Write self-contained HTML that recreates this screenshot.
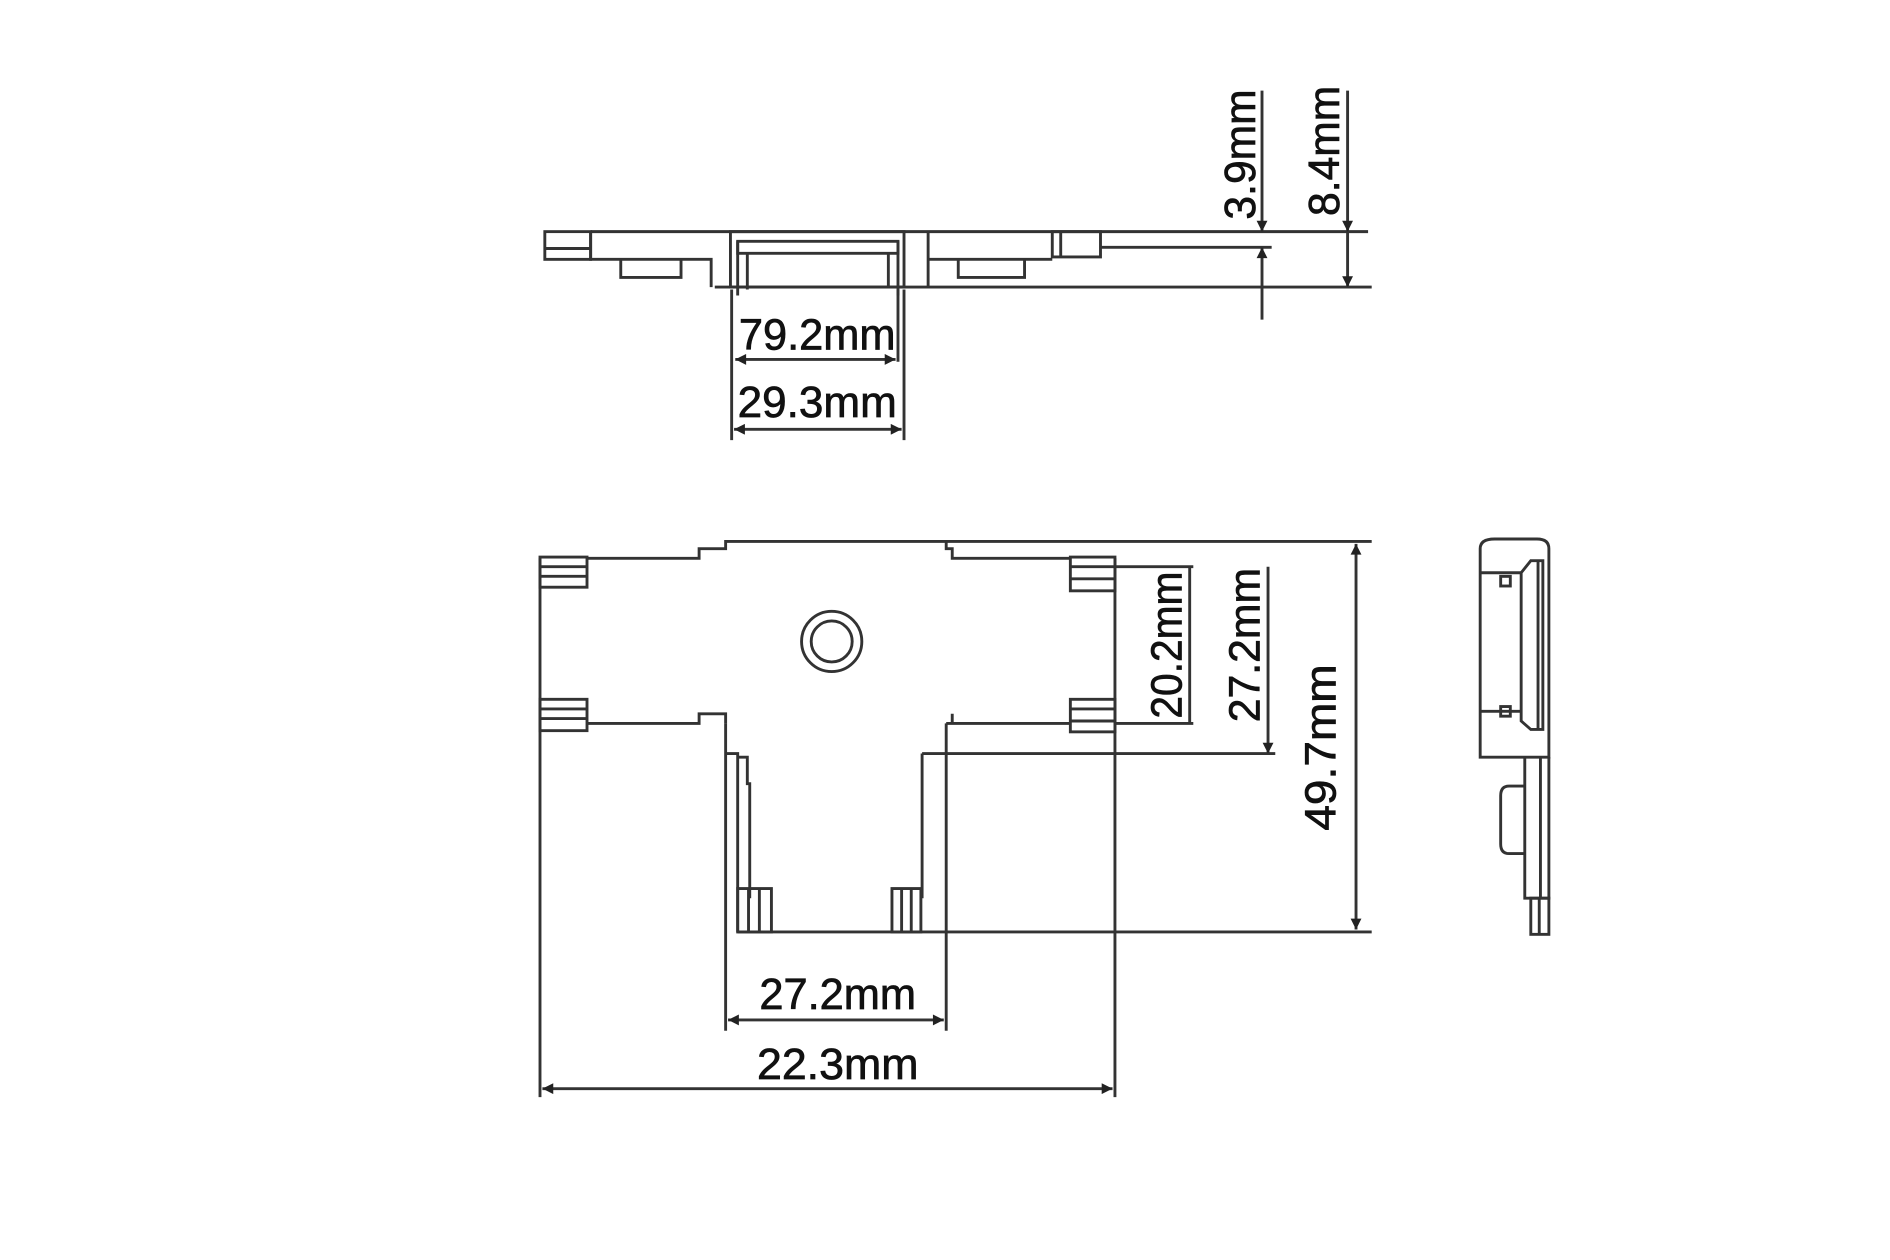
<!DOCTYPE html>
<html><head><meta charset="utf-8"><style>html,body{margin:0;padding:0;background:#fff}svg{display:block}</style></head>
<body>
<svg width="1890" height="1260" viewBox="0 0 1568 1045" xmlns="http://www.w3.org/2000/svg">
<defs>
<marker id="a" viewBox="0 0 10 10" refX="10" refY="5" markerWidth="18" markerHeight="9" orient="auto-start-reverse" markerUnits="userSpaceOnUse"><path d="M0,0L10,5L0,10z" fill="#222"/></marker>
</defs>
<rect width="1568" height="1045" fill="#fff"/>
<g fill="none" stroke="#333" stroke-width="2.4">
<line x1="490" y1="192" x2="1135" y2="192"/>
<line x1="593" y1="238" x2="1138" y2="238"/>
<rect x="452" y="192" width="38" height="23"/>
<line x1="452" y1="206" x2="490" y2="206"/>
<path d="M490,192V215H590V238"/>
<path d="M515,215V230H565V215"/>
<rect x="606" y="192" width="144" height="46"/>
<path d="M612,200H745V210H612Z"/>
<line x1="612" y1="200" x2="612" y2="245"/>
<line x1="745" y1="200" x2="745" y2="245"/>
<line x1="620" y1="210" x2="620" y2="240"/>
<line x1="737" y1="210" x2="737" y2="238"/>
<path d="M770,192V238"/>
<path d="M770,215H873"/>
<path d="M795,215V230H850V215"/>
<rect x="873" y="192" width="40" height="21"/>
<line x1="880" y1="192" x2="880" y2="213"/>
<line x1="913" y1="205" x2="1055" y2="205"/>
<line x1="1047" y1="75" x2="1047" y2="192" marker-end="url(#a)"/>
<line x1="1047" y1="265" x2="1047" y2="205" marker-end="url(#a)"/>
<line x1="1118" y1="75" x2="1118" y2="192" marker-end="url(#a)"/>
<line x1="1118" y1="192" x2="1118" y2="238" marker-end="url(#a)"/>
<line x1="607" y1="240" x2="607" y2="365"/>
<line x1="745" y1="240" x2="745" y2="300"/>
<line x1="750" y1="240" x2="750" y2="365"/>
<line x1="610" y1="298" x2="743" y2="298" marker-start="url(#a)" marker-end="url(#a)"/>
<line x1="609" y1="356" x2="748" y2="356" marker-start="url(#a)" marker-end="url(#a)"/>
<path d="M487,463H580V455H602V449H785V455H790V463H888"/>
<path d="M487,600H580V592H602V600"/>
<path d="M785,600H790V592M785,600H888"/>
<line x1="448" y1="463" x2="448" y2="910"/>
<rect x="448" y="462" width="39" height="25"/>
<line x1="448" y1="470" x2="487" y2="470"/><line x1="448" y1="478" x2="487" y2="478"/>
<rect x="448" y="580" width="39" height="26"/>
<line x1="448" y1="588" x2="487" y2="588"/><line x1="448" y1="596" x2="487" y2="596"/>
<rect x="888" y="462" width="37" height="28"/>
<line x1="888" y1="470" x2="925" y2="470"/><line x1="888" y1="480" x2="925" y2="480"/>
<rect x="888" y="580" width="37" height="27"/>
<line x1="888" y1="588" x2="925" y2="588"/><line x1="888" y1="598" x2="925" y2="598"/>
<line x1="925" y1="463" x2="925" y2="910"/>
<line x1="602" y1="600" x2="602" y2="855"/>
<line x1="785" y1="600" x2="785" y2="855"/>
<path d="M602,625H612V773"/>
<path d="M612,628H620V650H622V745"/>
<path d="M765,625V745"/>
<line x1="765" y1="625" x2="1058" y2="625"/>
<line x1="612" y1="773" x2="1138" y2="773"/>
<rect x="612" y="737" width="28" height="36"/><line x1="621" y1="737" x2="621" y2="773"/><line x1="630" y1="737" x2="630" y2="773"/>
<rect x="740" y="737" width="24" height="36"/><line x1="748" y1="737" x2="748" y2="773"/><line x1="756" y1="737" x2="756" y2="773"/>
<circle cx="690" cy="532" r="25"/><circle cx="690" cy="532" r="17"/>
<line x1="925" y1="470" x2="990" y2="470"/>
<line x1="925" y1="600" x2="990" y2="600"/>
<line x1="987" y1="470" x2="987" y2="600"/>
<line x1="1052" y1="470" x2="1052" y2="625" marker-end="url(#a)"/>
<line x1="785" y1="449" x2="1138" y2="449"/>
<line x1="1125" y1="451" x2="1125" y2="771" marker-start="url(#a)" marker-end="url(#a)"/>
<line x1="604" y1="846" x2="783" y2="846" marker-start="url(#a)" marker-end="url(#a)"/>
<line x1="450" y1="903" x2="923" y2="903" marker-start="url(#a)" marker-end="url(#a)"/>
<path d="M1228,628V455Q1228,447 1240,447H1275Q1285,447 1285,455V628Z"/>
<line x1="1228" y1="475" x2="1262" y2="475"/>
<line x1="1228" y1="590" x2="1262" y2="590"/>
<path d="M1262,475L1270,465H1280V605H1270L1262,598Z"/>
<line x1="1276" y1="465" x2="1276" y2="605"/>
<rect x="1245" y="478" width="8" height="8"/><rect x="1245" y="586" width="8" height="8"/>
<path d="M1265,628V745H1285V628"/>
<line x1="1278" y1="628" x2="1278" y2="745"/>
<path d="M1265,652H1252Q1245,652 1245,660V700Q1245,708 1252,708H1265"/>
<rect x="1270" y="745" width="15" height="30"/><line x1="1277" y1="745" x2="1277" y2="775"/>
</g>
<g font-family="Liberation Sans, sans-serif" font-size="36" fill="#111" stroke="#111" stroke-width="0.6">
<text x="678" y="290" text-anchor="middle" textLength="130" lengthAdjust="spacingAndGlyphs">79.2mm</text>
<text x="678" y="346" text-anchor="middle" textLength="132" lengthAdjust="spacingAndGlyphs">29.3mm</text>
<text x="695" y="837" text-anchor="middle" textLength="130" lengthAdjust="spacingAndGlyphs">27.2mm</text>
<text x="695" y="895" text-anchor="middle" textLength="134" lengthAdjust="spacingAndGlyphs">22.3mm</text>
<text transform="translate(1041,128) rotate(-90)" text-anchor="middle" textLength="108" lengthAdjust="spacingAndGlyphs">3.9mm</text>
<text transform="translate(1111,125) rotate(-90)" text-anchor="middle" textLength="108" lengthAdjust="spacingAndGlyphs">8.4mm</text>
<text transform="translate(980,535) rotate(-90)" text-anchor="middle" textLength="122" lengthAdjust="spacingAndGlyphs">20.2mm</text>
<text transform="translate(1045,535) rotate(-90)" text-anchor="middle" textLength="128" lengthAdjust="spacingAndGlyphs">27.2mm</text>
<text transform="translate(1108,620) rotate(-90)" text-anchor="middle" textLength="138" lengthAdjust="spacingAndGlyphs">49.7mm</text>
</g>
</svg>
</body></html>
